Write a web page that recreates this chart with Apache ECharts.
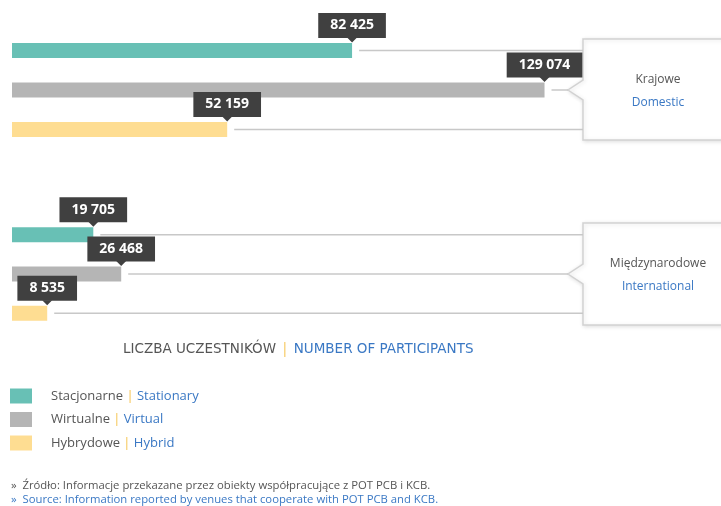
<!DOCTYPE html>
<html>
<head>
<meta charset="utf-8">
<script src="https://cdn.jsdelivr.net/npm/echarts@6/dist/echarts.min.js"></script>
<style>
  html, body { margin: 0; padding: 0; background: #fff; }
  #chart { width: 721px; height: 506px; }
</style>
</head>
<body>
<div id="chart"></div>
<script>
// modes of participation (legend order)
const modes = ['Stationary', 'Virtual', 'Hybrid'];
const modesPl = ['Stacjonarne', 'Wirtualne', 'Hybrydowe'];
const colors = ['#68c0b5', '#b5b5b5', '#fedd92'];

// participants per group, in the order of modes
const domestic = [82425, 129074, 52159];
const international = [19705, 26468, 8535];

const groups = [
  { pl: 'Krajowe', en: 'Domestic', values: domestic },
  { pl: 'Międzynarodowe', en: 'International', values: international }
];

const xMax = 138400;
const gridTops = [30.75, 215];
const gridHeights = [118.5, 117.75];

const fmt = v => String(v).replace(/\B(?=(\d{3})+(?!\d))/g, ' ');
const font = "'Open Sans', sans-serif";

let chart = echarts.init(document.getElementById('chart'));

const grids = groups.map((g, i) => ({
  left: 12, width: 571, top: gridTops[i], height: gridHeights[i]
}));
const xAxes = groups.map((g, i) => ({
  type: 'value', gridIndex: i, min: 0, max: xMax, show: false
}));
const yAxes = groups.map((g, i) => ({
  type: 'category', gridIndex: i, inverse: true, data: modes, show: false
}));

const series = [];
groups.forEach((g, gi) => {
  modes.forEach((m, mi) => {
    series.push({
      name: m,
      type: 'bar',
      xAxisIndex: gi,
      yAxisIndex: gi,
      stack: 'g' + gi,
      barWidth: 15,
      itemStyle: { color: colors[mi] },
      data: g.values.map((v, k) => (k === mi ? v : '-')),
      label: {
        show: true,
        position: ['100%', 0],
        align: 'center',
        verticalAlign: 'bottom',
        offset: [0, -5],
        formatter: p => fmt(p.value),
        color: '#fff',
        fontFamily: font,
        fontWeight: 'bold',
        fontSize: 14,
        lineHeight: 17,
        backgroundColor: '#404040',
        padding: [4, 12]
      },
      emphasis: { disabled: true },
      z: 3
    });
  });
  // connector lines and label pointers
  series.push({
    type: 'custom',
    name: 'lines' + gi,
    xAxisIndex: gi,
    yAxisIndex: gi,
    silent: true,
    z: 2,
    data: g.values.map((v, k) => [v, k]),
    encode: { x: 0, y: 1 },
    renderItem: (params, api) => {
      const idx = api.value(1);
      const p = api.coord([api.value(0), idx]);
      const right = params.coordSys.x + params.coordSys.width;
      return {
        type: 'group',
        children: [
          {
            type: 'line',
            shape: { x1: p[0] + 7, y1: p[1], x2: idx === 1 ? right - 15 : right, y2: p[1] },
            style: { stroke: '#c8c8c8', lineWidth: 1.5 }
          },
          {
            type: 'polygon',
            shape: { points: [[p[0] - 5, p[1] - 13], [p[0] + 5, p[1] - 13], [p[0], p[1] - 8]] },
            style: { fill: '#404040' }
          }
        ]
      };
    }
  });
});

// group boxes at the right
const boxes = [];
groups.forEach((g, gi) => {
  const top = [39, 223][gi];
  const bottom = [140, 325][gi];
  const tipY = [90, 274][gi];
  boxes.push({
    type: 'polygon',
    shape: {
      points: [[583, top], [740, top], [740, bottom], [583, bottom],
               [583, tipY + 10], [568, tipY], [583, tipY - 10]]
    },
    style: {
      fill: '#fff', stroke: '#d2d2d2', lineWidth: 1.5,
      shadowBlur: 4, shadowColor: 'rgba(0,0,0,0.12)', shadowOffsetX: 1, shadowOffsetY: 1
    },
    z: 1
  });
  boxes.push({
    type: 'text',
    style: {
      text: g.pl, x: 658, y: tipY - 10, align: 'center', verticalAlign: 'middle',
      fill: '#555', font: '12px ' + font
    },
    z: 5
  });
  boxes.push({
    type: 'text',
    style: {
      text: g.en, x: 658, y: tipY + 13, align: 'center', verticalAlign: 'middle',
      fill: '#3a78c4', font: '12px ' + font
    },
    z: 5
  });
});

// footnotes
boxes.push({
  type: 'text',
  style: {
    text: '»  Źródło: Informacje przekazane przez obiekty współpracujące z POT PCB i KCB.',
    x: 11, y: 486, verticalAlign: 'middle', fill: '#555', font: '11.3px ' + font
  }
});
boxes.push({
  type: 'text',
  style: {
    text: '»  Source: Information reported by venues that cooperate with POT PCB and KCB.',
    x: 11, y: 500, verticalAlign: 'middle', fill: '#3a78c4', font: '11.3px ' + font
  }
});

chart.setOption({
  backgroundColor: '#fff',
  animation: false,
  title: {
    left: 118,
    top: 335,
    padding: 5,
    text: '{pl|LICZBA UCZESTNIKÓW} {sep||} {en|NUMBER OF PARTICIPANTS}',
    textStyle: {
      fontWeight: 'normal',
      rich: {
        pl: { color: '#555', fontSize: 13.5, fontFamily: 'DejaVu Sans', fontWeight: 'normal' },
        sep: { color: '#f5c24c', fontSize: 14, fontFamily: font, fontWeight: 'normal' },
        en: { color: '#3a78c4', fontSize: 13.5, fontFamily: 'DejaVu Sans', fontWeight: 'normal' }
      }
    }
  },
  legend: {
    data: modes,
    orient: 'vertical',
    left: 10,
    top: 388.5,
    padding: 0,
    icon: 'rect',
    itemWidth: 22,
    itemHeight: 15,
    itemGap: 8.5,
    selectedMode: false,
    formatter: name => {
      const i = modes.indexOf(name);
      return '{pl|' + modesPl[i] + '} {sep||} {en|' + name + '}';
    },
    textStyle: {
      rich: {
        pl: { color: '#555', fontSize: 13, fontFamily: font, padding: [0, 0, 0, 14] },
        sep: { color: '#f5c24c', fontSize: 13, fontFamily: font },
        en: { color: '#3a78c4', fontSize: 13, fontFamily: font }
      }
    }
  },
  grid: grids,
  xAxis: xAxes,
  yAxis: yAxes,
  series: series,
  graphic: boxes
});
</script>
</body>
</html>
